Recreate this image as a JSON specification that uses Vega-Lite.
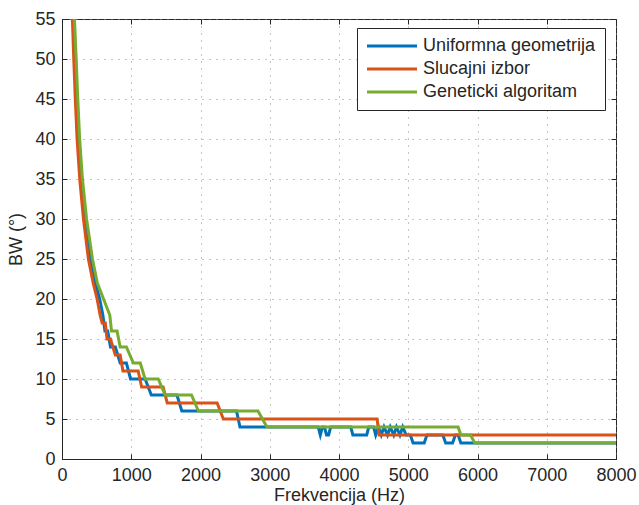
{
  "$schema": "https://vega.github.io/schema/vega-lite/v6.json",
  "width": 554,
  "height": 440,
  "autosize": {"type": "none"},
  "padding": {"left": 62, "top": 19, "right": 23, "bottom": 46},
  "background": "white",
  "config": {
    "view": {"stroke": "#262626", "strokeWidth": 1},
    "font": "Liberation Sans",
    "axis": {
      "domainColor": "#262626",
      "tickColor": "#262626",
      "labelColor": "#262626",
      "titleColor": "#262626",
      "labelFont": "Liberation Sans",
      "titleFont": "Liberation Sans",
      "labelFontSize": 18,
      "titleFontSize": 18,
      "titleFontWeight": "normal",
      "grid": true,
      "gridColor": "#8a8a8a",
      "gridDash": [1, 6],
      "gridWidth": 1,
      "tickSize": 5
    }
  },
  "data": {
    "values": [
      {"f": 160, "bw": 55, "s": "Uniformna geometrija"},
      {"f": 185, "bw": 50, "s": "Uniformna geometrija"},
      {"f": 210, "bw": 45, "s": "Uniformna geometrija"},
      {"f": 238, "bw": 40, "s": "Uniformna geometrija"},
      {"f": 275, "bw": 35, "s": "Uniformna geometrija"},
      {"f": 330, "bw": 30, "s": "Uniformna geometrija"},
      {"f": 415, "bw": 25, "s": "Uniformna geometrija"},
      {"f": 480, "bw": 22, "s": "Uniformna geometrija"},
      {"f": 545, "bw": 20, "s": "Uniformna geometrija"},
      {"f": 590, "bw": 18, "s": "Uniformna geometrija"},
      {"f": 620, "bw": 16, "s": "Uniformna geometrija"},
      {"f": 660, "bw": 16, "s": "Uniformna geometrija"},
      {"f": 700, "bw": 14, "s": "Uniformna geometrija"},
      {"f": 770, "bw": 14, "s": "Uniformna geometrija"},
      {"f": 840, "bw": 12, "s": "Uniformna geometrija"},
      {"f": 930, "bw": 12, "s": "Uniformna geometrija"},
      {"f": 990, "bw": 10, "s": "Uniformna geometrija"},
      {"f": 1200, "bw": 10, "s": "Uniformna geometrija"},
      {"f": 1290, "bw": 8, "s": "Uniformna geometrija"},
      {"f": 1660, "bw": 8, "s": "Uniformna geometrija"},
      {"f": 1730, "bw": 6, "s": "Uniformna geometrija"},
      {"f": 2520, "bw": 6, "s": "Uniformna geometrija"},
      {"f": 2570, "bw": 4, "s": "Uniformna geometrija"},
      {"f": 3700, "bw": 4, "s": "Uniformna geometrija"},
      {"f": 3730, "bw": 3, "s": "Uniformna geometrija"},
      {"f": 3760, "bw": 4, "s": "Uniformna geometrija"},
      {"f": 3790, "bw": 4, "s": "Uniformna geometrija"},
      {"f": 3820, "bw": 3, "s": "Uniformna geometrija"},
      {"f": 3850, "bw": 3, "s": "Uniformna geometrija"},
      {"f": 3880, "bw": 4, "s": "Uniformna geometrija"},
      {"f": 4170, "bw": 4, "s": "Uniformna geometrija"},
      {"f": 4200, "bw": 3, "s": "Uniformna geometrija"},
      {"f": 4400, "bw": 3, "s": "Uniformna geometrija"},
      {"f": 4430, "bw": 4, "s": "Uniformna geometrija"},
      {"f": 4500, "bw": 4, "s": "Uniformna geometrija"},
      {"f": 4530, "bw": 3, "s": "Uniformna geometrija"},
      {"f": 4570, "bw": 4, "s": "Uniformna geometrija"},
      {"f": 4610, "bw": 3, "s": "Uniformna geometrija"},
      {"f": 4650, "bw": 4, "s": "Uniformna geometrija"},
      {"f": 4700, "bw": 3, "s": "Uniformna geometrija"},
      {"f": 4740, "bw": 4, "s": "Uniformna geometrija"},
      {"f": 4790, "bw": 3, "s": "Uniformna geometrija"},
      {"f": 4830, "bw": 4, "s": "Uniformna geometrija"},
      {"f": 4880, "bw": 3, "s": "Uniformna geometrija"},
      {"f": 4920, "bw": 4, "s": "Uniformna geometrija"},
      {"f": 4970, "bw": 3, "s": "Uniformna geometrija"},
      {"f": 5030, "bw": 3, "s": "Uniformna geometrija"},
      {"f": 5070, "bw": 2, "s": "Uniformna geometrija"},
      {"f": 5230, "bw": 2, "s": "Uniformna geometrija"},
      {"f": 5270, "bw": 3, "s": "Uniformna geometrija"},
      {"f": 5500, "bw": 3, "s": "Uniformna geometrija"},
      {"f": 5540, "bw": 2, "s": "Uniformna geometrija"},
      {"f": 5640, "bw": 2, "s": "Uniformna geometrija"},
      {"f": 5680, "bw": 3, "s": "Uniformna geometrija"},
      {"f": 5720, "bw": 3, "s": "Uniformna geometrija"},
      {"f": 5760, "bw": 2, "s": "Uniformna geometrija"},
      {"f": 8000, "bw": 2, "s": "Uniformna geometrija"},

      {"f": 150, "bw": 55, "s": "Slucajni izbor"},
      {"f": 170, "bw": 50, "s": "Slucajni izbor"},
      {"f": 192, "bw": 45, "s": "Slucajni izbor"},
      {"f": 218, "bw": 40, "s": "Slucajni izbor"},
      {"f": 256, "bw": 35, "s": "Slucajni izbor"},
      {"f": 310, "bw": 30, "s": "Slucajni izbor"},
      {"f": 381, "bw": 25, "s": "Slucajni izbor"},
      {"f": 450, "bw": 22, "s": "Slucajni izbor"},
      {"f": 507, "bw": 20, "s": "Slucajni izbor"},
      {"f": 550, "bw": 18, "s": "Slucajni izbor"},
      {"f": 580, "bw": 17, "s": "Slucajni izbor"},
      {"f": 625, "bw": 17, "s": "Slucajni izbor"},
      {"f": 650, "bw": 15, "s": "Slucajni izbor"},
      {"f": 700, "bw": 15, "s": "Slucajni izbor"},
      {"f": 770, "bw": 13, "s": "Slucajni izbor"},
      {"f": 840, "bw": 13, "s": "Slucajni izbor"},
      {"f": 880, "bw": 11, "s": "Slucajni izbor"},
      {"f": 1100, "bw": 11, "s": "Slucajni izbor"},
      {"f": 1150, "bw": 9, "s": "Slucajni izbor"},
      {"f": 1460, "bw": 9, "s": "Slucajni izbor"},
      {"f": 1520, "bw": 7, "s": "Slucajni izbor"},
      {"f": 2240, "bw": 7, "s": "Slucajni izbor"},
      {"f": 2330, "bw": 5, "s": "Slucajni izbor"},
      {"f": 4550, "bw": 5, "s": "Slucajni izbor"},
      {"f": 4580, "bw": 3, "s": "Slucajni izbor"},
      {"f": 8000, "bw": 3, "s": "Slucajni izbor"},

      {"f": 180, "bw": 55, "s": "Geneticki algoritam"},
      {"f": 205, "bw": 50, "s": "Geneticki algoritam"},
      {"f": 228, "bw": 45, "s": "Geneticki algoritam"},
      {"f": 255, "bw": 40, "s": "Geneticki algoritam"},
      {"f": 295, "bw": 35, "s": "Geneticki algoritam"},
      {"f": 355, "bw": 30, "s": "Geneticki algoritam"},
      {"f": 440, "bw": 25, "s": "Geneticki algoritam"},
      {"f": 510, "bw": 22, "s": "Geneticki algoritam"},
      {"f": 600, "bw": 20, "s": "Geneticki algoritam"},
      {"f": 690, "bw": 18, "s": "Geneticki algoritam"},
      {"f": 715, "bw": 16, "s": "Geneticki algoritam"},
      {"f": 795, "bw": 16, "s": "Geneticki algoritam"},
      {"f": 840, "bw": 14, "s": "Geneticki algoritam"},
      {"f": 930, "bw": 14, "s": "Geneticki algoritam"},
      {"f": 1030, "bw": 12, "s": "Geneticki algoritam"},
      {"f": 1130, "bw": 12, "s": "Geneticki algoritam"},
      {"f": 1200, "bw": 10, "s": "Geneticki algoritam"},
      {"f": 1390, "bw": 10, "s": "Geneticki algoritam"},
      {"f": 1490, "bw": 8, "s": "Geneticki algoritam"},
      {"f": 1870, "bw": 8, "s": "Geneticki algoritam"},
      {"f": 1970, "bw": 6, "s": "Geneticki algoritam"},
      {"f": 2830, "bw": 6, "s": "Geneticki algoritam"},
      {"f": 2960, "bw": 4, "s": "Geneticki algoritam"},
      {"f": 5720, "bw": 4, "s": "Geneticki algoritam"},
      {"f": 5760, "bw": 3, "s": "Geneticki algoritam"},
      {"f": 5900, "bw": 3, "s": "Geneticki algoritam"},
      {"f": 5960, "bw": 2, "s": "Geneticki algoritam"},
      {"f": 8000, "bw": 2, "s": "Geneticki algoritam"}
    ]
  },
  "layer": [
    {
      "mark": {"type": "line", "strokeWidth": 3, "clip": true},
      "encoding": {
        "x": {
          "field": "f", "type": "quantitative",
          "scale": {"domain": [0, 8000], "nice": false},
          "axis": {"values": [0, 1000, 2000, 3000, 4000, 5000, 6000, 7000, 8000], "format": "d", "title": "Frekvencija (Hz)", "tickSize": -5, "labelPadding": 12, "titlePadding": 2, "labelFlush": false}
        },
        "y": {
          "field": "bw", "type": "quantitative",
          "scale": {"domain": [0, 55], "nice": false},
          "axis": {"values": [0, 5, 10, 15, 20, 25, 30, 35, 40, 45, 50, 55], "title": "BW (°)", "tickSize": -5, "labelPadding": 12, "titlePadding": 9, "labelFlush": false}
        },
        "color": {
          "field": "s", "type": "nominal",
          "scale": {
            "domain": ["Uniformna geometrija", "Slucajni izbor", "Geneticki algoritam"],
            "range": ["#0072BD", "#D95319", "#77AC30"]
          },
          "legend": {
            "title": null,
            "orient": "none",
            "legendX": 295,
            "legendY": 9,
            "symbolType": "M-1.6,0H8.4",
            "symbolSize": 100,
            "symbolStrokeWidth": 3,
            "labelFontSize": 18,
            "labelFont": "Liberation Sans",
            "labelColor": "#262626",
            "labelOffset": 39,
            "rowPadding": 5,
            "padding": 9,
            "strokeColor": "#262626",
            "fillColor": "white",
            "labelLimit": 300
          }
        }
      }
    },
    {
      "mark": {"type": "point", "opacity": 0},
      "encoding": {
        "x": {
          "field": "f", "type": "quantitative",
          "axis": {"orient": "top", "values": [0, 1000, 2000, 3000, 4000, 5000, 6000, 7000, 8000], "labels": false, "title": null, "grid": false, "tickSize": -5, "domain": false}
        },
        "y": {
          "field": "bw", "type": "quantitative",
          "axis": {"orient": "right", "values": [0, 5, 10, 15, 20, 25, 30, 35, 40, 45, 50, 55], "labels": false, "title": null, "grid": false, "tickSize": -5, "domain": false}
        }
      }
    }
  ],
  "resolve": {"axis": {"x": "independent", "y": "independent"}}
}
